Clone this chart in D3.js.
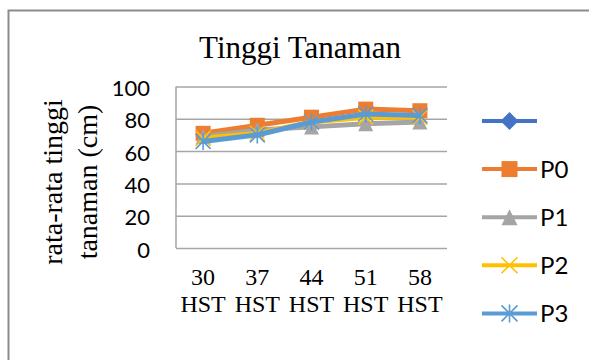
<!DOCTYPE html>
<html>
<head>
<meta charset="utf-8">
<script src="https://cdn.jsdelivr.net/npm/d3@7"></script>
<style>
  html, body { margin: 0; padding: 0; background: #fff; }
  svg { display: block; }
</style>
</head>
<body>
<svg id="chart" width="589" height="360"></svg>
<script>
// Data
const categories = ["30 HST", "37 HST", "44 HST", "51 HST", "58 HST"];
const seriesNames = ["", "P0", "P1", "P2", "P3"];
const seriesColors = ["#4472C4", "#ED7D31", "#A5A5A5", "#FFC000", "#5B9BD5"];
const seriesMarkers = ["diamond", "square", "triangle", "x", "star"];
const valuesBlank = [];
const valuesP0 = [71, 76, 81, 86, 85];
const valuesP1 = [69, 73, 75, 77, 78];
const valuesP2 = [68, 71, 78, 81, 81];
const valuesP3 = [66, 70, 78, 83, 82];
const yTicks = [0, 20, 40, 60, 80, 100];
const titleText = "Tinggi Tanaman";
const yTitleLines = ["rata-rata tinggi", "tanaman (cm)"];

const seriesValues = [valuesBlank, valuesP0, valuesP1, valuesP2, valuesP3];
const series = seriesNames.map((name, i) => ({
  name, color: seriesColors[i], marker: seriesMarkers[i], values: seriesValues[i]
}));

const svg = d3.select("#chart");
const plot = { left: 176, right: 447, top: 86.5, bottom: 248 };

// Outer chart frame
svg.append("rect")
  .attr("x", 8.5).attr("y", 10.5)
  .attr("width", 620).attr("height", 400)
  .attr("fill", "#fff").attr("stroke", "#8c8c8c").attr("stroke-width", 2);

const x = d3.scaleBand().domain(categories).range([plot.left, plot.right]).padding(0);
const xc = c => x(c) + x.bandwidth() / 2;
const y = d3.scaleLinear().domain([0, 100]).range([plot.bottom, plot.top]);

// Horizontal gridlines
svg.append("g")
  .attr("transform", `translate(${plot.left},0)`)
  .call(d3.axisLeft(y).tickValues(yTicks).tickSize(-(plot.right - plot.left)).tickFormat(""))
  .call(g => g.select(".domain").remove())
  .call(g => g.selectAll("line").attr("stroke", "#a6a6a6").attr("stroke-width", 1.5));

// Left axis line
svg.append("line")
  .attr("x1", plot.left).attr("x2", plot.left)
  .attr("y1", plot.top).attr("y2", plot.bottom)
  .attr("stroke", "#a6a6a6").attr("stroke-width", 1.5);

// Y tick labels
svg.append("g")
  .attr("transform", `translate(150,0)`)
  .call(d3.axisLeft(y).tickValues(yTicks).tickSize(0).tickPadding(0))
  .call(g => g.select(".domain").remove())
  .call(g => g.selectAll("text")
    .attr("font-family", "Lato, 'Open Sans', sans-serif")
    .attr("font-size", 22)
    .attr("fill", "#000")
    .attr("dy", "0.62em")
    .attr("transform", "translate(0,-4.5)"));

// X tick labels (two lines each)
const xAxis = svg.append("g")
  .attr("transform", `translate(0,${plot.bottom})`)
  .call(d3.axisBottom(x).tickSize(0).tickFormat(""))
  .call(g => g.select(".domain").remove());
xAxis.selectAll(".tick").each(function(d) {
  const parts = d.split(" ");
  const t = d3.select(this).append("text")
    .attr("text-anchor", "middle")
    .attr("font-family", "'Liberation Serif', 'Times New Roman', serif")
    .attr("font-size", 24)
    .attr("fill", "#000");
  t.append("tspan").attr("x", 0).attr("y", 37).text(parts[0]);
  t.append("tspan").attr("x", 0).attr("y", 64).text(parts[1]);
});

// Title
svg.append("text")
  .attr("x", 300).attr("y", 58)
  .attr("text-anchor", "middle")
  .attr("font-family", "'Liberation Serif', 'Times New Roman', serif")
  .attr("font-size", 31)
  .attr("fill", "#000")
  .text(titleText);

// Y axis title
const yTitle = svg.append("text")
  .attr("transform", "translate(62,182) rotate(-90)")
  .attr("text-anchor", "middle")
  .attr("font-family", "'Liberation Serif', 'Times New Roman', serif")
  .attr("font-size", 28)
  .attr("fill", "#000");
yTitleLines.forEach((ln, i) => {
  yTitle.append("tspan").attr("x", 0).attr("y", i * 35).text(ln);
});

// Marker drawing helper
function drawMarker(g, type, color, cx, cy, s) {
  const h = s / 2;
  if (type === "square") {
    g.append("rect").attr("x", cx - h).attr("y", cy - h).attr("width", s).attr("height", s)
      .attr("fill", color);
  } else if (type === "diamond") {
    g.append("path")
      .attr("d", `M${cx},${cy - h - 1}L${cx + h + 1},${cy}L${cx},${cy + h + 1}L${cx - h - 1},${cy}Z`)
      .attr("fill", color);
  } else if (type === "triangle") {
    g.append("path")
      .attr("d", `M${cx},${cy - h}L${cx + h},${cy + h}L${cx - h},${cy + h}Z`)
      .attr("fill", color);
  } else if (type === "x" || type === "star") {
    const d = `M${cx - h},${cy - h}L${cx + h},${cy + h}M${cx + h},${cy - h}L${cx - h},${cy + h}` +
      (type === "star" ? `M${cx},${cy - h - 1}L${cx},${cy + h + 1}` : "");
    g.append("path").attr("d", d).attr("stroke", color).attr("stroke-width", 1.6).attr("fill", "none");
  }
}

// Series lines and markers
const line = d3.line().x((v, i) => xc(categories[i])).y(v => y(v));
series.forEach(s => {
  if (!s.values.length) return;
  const g = svg.append("g");
  g.append("path")
    .attr("d", line(s.values))
    .attr("fill", "none")
    .attr("stroke", s.color)
    .attr("stroke-width", 5)
    .attr("stroke-linejoin", "round");
  s.values.forEach((v, i) => drawMarker(g, s.marker, s.color, xc(categories[i]), y(v), 15));
});

// Legend
const legend = svg.append("g");
const legendTop = 121, legendStep = 48.1;
series.forEach((s, i) => {
  const ly = legendTop + i * legendStep;
  const g = legend.append("g");
  g.append("line").attr("x1", 482).attr("x2", 537).attr("y1", ly).attr("y2", ly)
    .attr("stroke", s.color).attr("stroke-width", 4);
  drawMarker(g, s.marker, s.color, 509.5, ly, 16);
  if (s.name) {
    g.append("text").attr("x", 540).attr("y", ly).attr("dy", "0.36em")
      .attr("font-family", "Lato, 'Open Sans', sans-serif")
      .attr("font-size", 24)
      .attr("fill", "#000")
      .text(s.name);
  }
});
</script>
</body>
</html>
